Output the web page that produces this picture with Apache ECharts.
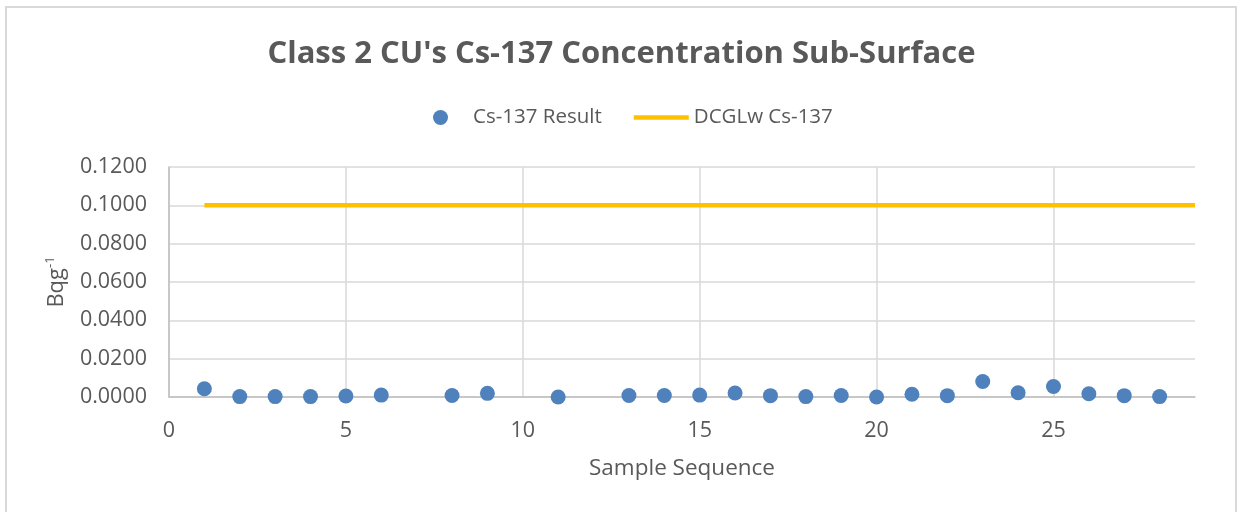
<!DOCTYPE html>
<html>
<head>
<meta charset="utf-8">
<script src="https://cdn.jsdelivr.net/npm/echarts@6/dist/echarts.min.js"></script>
<style>
  html, body { margin: 0; padding: 0; background: #ffffff; }
  #chart { width: 1243px; height: 512px; }
</style>
</head>
<body>
<div id="chart"></div>
<script>
// Sample sequence numbers that have a measured Cs-137 result
const sampleSeq = [1, 2, 3, 4, 5, 6, 8, 9, 11, 13, 14, 15, 16, 17, 18, 19, 20, 21, 22, 23, 24, 25, 26, 27, 28];
// Measured Cs-137 concentration (Bq/g)
const cs137Result = [0.0043, 0.0002, 0.0002, 0.0002, 0.0005, 0.0010, 0.0008, 0.0019, 0.0000, 0.0008, 0.0008, 0.0010, 0.0021, 0.0007, 0.0002, 0.0008, 0.0000, 0.0014, 0.0007, 0.0081, 0.0022, 0.0055, 0.0017, 0.0007, 0.0002];
// DCGLw limit drawn across the sequence
const dcglSeq = [1, 2, 3, 4, 5, 6, 7, 8, 9, 10, 11, 12, 13, 14, 15, 16, 17, 18, 19, 20, 21, 22, 23, 24, 25, 26, 27, 28, 29];
const dcglValue = [0.1, 0.1, 0.1, 0.1, 0.1, 0.1, 0.1, 0.1, 0.1, 0.1, 0.1, 0.1, 0.1, 0.1, 0.1, 0.1, 0.1, 0.1, 0.1, 0.1, 0.1, 0.1, 0.1, 0.1, 0.1, 0.1, 0.1, 0.1, 0.1];
// Axis ranges
const xTicks = { min: 0, max: 29, interval: 5 };
const yTicks = { min: 0, max: 0.12, interval: 0.02 };

const FONT = '"Open Sans", "Noto Sans", sans-serif';
const TEXT = '#595959';
const GRID = '#d9d9d9';
const BLUE = '#4f81bd';
const GOLD = '#ffc000';

const chart = echarts.init(document.getElementById('chart'), null, { renderer: 'canvas' });

chart.setOption({
  backgroundColor: '#ffffff',
  animation: false,
  textStyle: { fontFamily: FONT, color: TEXT },
  graphic: [{
    type: 'rect',
    shape: { x: 6, y: 7, width: 1230, height: 520 },
    style: { fill: 'none', stroke: GRID, lineWidth: 2 },
    silent: true
  }],
  title: {
    text: "Class 2 CU's Cs-137 Concentration Sub-Surface",
    left: 'center',
    top: 34,
    textStyle: { fontFamily: FONT, fontWeight: 'bold', fontSize: 31, color: TEXT }
  },
  legend: {
    top: 102,
    left: 428,
    itemWidth: 55,
    itemHeight: 15,
    itemGap: 32,
    symbolKeepAspect: true,
    textStyle: { fontFamily: FONT, fontSize: 20.5, color: TEXT },
    data: [
      { name: 'Cs-137 Result', icon: 'circle', itemStyle: { color: BLUE, opacity: 1 } },
      // thick bar icon for the limit line (no marker on it)
      { name: 'DCGLw Cs-137', icon: 'path://M0,0 L55,0 L55,4.5 L0,4.5 Z', itemStyle: { color: GOLD } }
    ]
  },
  grid: { left: 169, right: 48, top: 167, bottom: 115, containLabel: false },
  xAxis: {
    type: 'value',
    min: xTicks.min,
    max: xTicks.max,
    interval: xTicks.interval,
    name: 'Sample Sequence',
    nameLocation: 'middle',
    nameGap: 60,
    nameTextStyle: { fontFamily: FONT, fontSize: 22.5, color: TEXT },
    axisLine: { show: true, lineStyle: { color: '#bfbfbf', width: 1.5 } },
    axisTick: { show: false },
    axisLabel: { fontFamily: FONT, fontSize: 21.5, color: TEXT, margin: 23, showMaxLabel: false },
    splitLine: { show: true, showMaxLine: false, lineStyle: { color: GRID, width: 1.5 } }
  },
  yAxis: {
    type: 'value',
    min: yTicks.min,
    max: yTicks.max,
    interval: yTicks.interval,
    name: '{b|Bqg}{s|-1}',
    nameLocation: 'middle',
    nameGap: 100,
    nameRotate: 90,
    nameTextStyle: {
      rich: {
        b: { fontFamily: FONT, fontSize: 22, color: TEXT },
        s: { fontFamily: FONT, fontSize: 13, color: TEXT, verticalAlign: 'top', padding: [0, 0, 12, 0] }
      }
    },
    axisLine: { show: true, lineStyle: { color: '#bfbfbf', width: 1.5 } },
    axisTick: { show: false },
    axisLabel: {
      fontFamily: FONT, fontSize: 21.5, color: TEXT, margin: 22,
      formatter: v => v.toFixed(4)
    },
    splitLine: { show: true, lineStyle: { color: GRID, width: 1.5 } }
  },
  series: [
    {
      name: 'Cs-137 Result',
      type: 'scatter',
      symbol: 'circle',
      symbolSize: 15,
      itemStyle: { color: BLUE, opacity: 1 },
      data: sampleSeq.map((s, i) => [s, cs137Result[i]]),
      z: 3
    },
    {
      name: 'DCGLw Cs-137',
      type: 'line',
      showSymbol: false,
      symbol: 'none',
      lineStyle: { color: GOLD, width: 4.5 },
      itemStyle: { color: GOLD },
      data: dcglSeq.map((s, i) => [s, dcglValue[i]]),
      z: 2
    }
  ]
});
</script>
</body>
</html>
